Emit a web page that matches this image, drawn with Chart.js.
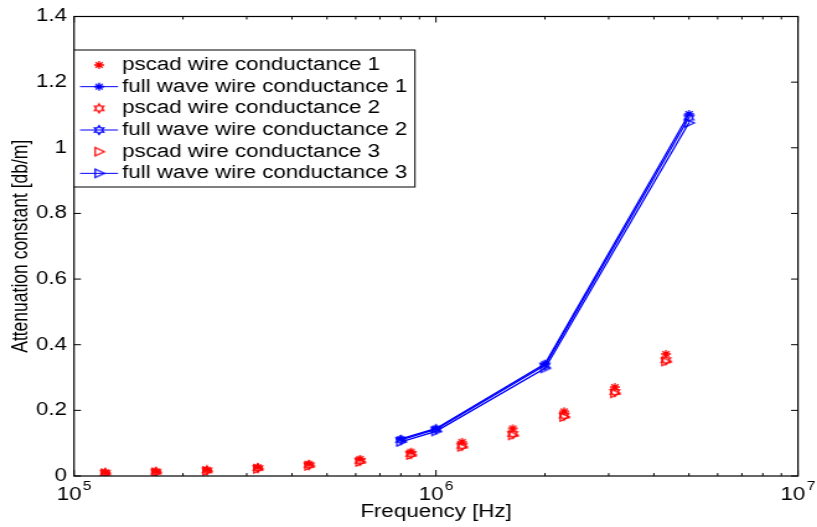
<!DOCTYPE html>
<html>
<head>
<meta charset="utf-8">
<script src="https://cdn.jsdelivr.net/npm/chart.js@4.4.0/dist/chart.umd.min.js"></script>
<style>
  html, body { margin: 0; padding: 0; background: #fff; overflow: hidden; }
  /* the reference is a MATLAB figure stretched sideways, so stretch the canvas the same way */
  #chart { display: block; width: 659px; height: 527px; transform: scaleX(1.2398); transform-origin: 0 0; }
</style>
</head>
<body>
<canvas id="chart" width="659" height="527"></canvas>
<script>
// data
const pscadFreq = [1.22e5, 1.685e5, 2.33e5, 3.22e5, 4.46e5, 6.17e5, 8.53e5, 1.18e6, 1.63e6, 2.26e6, 3.12e6, 4.32e6];
const pscad1 = [0.011, 0.014, 0.019, 0.027, 0.037, 0.052, 0.074, 0.104, 0.145, 0.197, 0.271, 0.372];
const pscad2 = [0.010, 0.013, 0.017, 0.024, 0.033, 0.046, 0.067, 0.092, 0.128, 0.184, 0.256, 0.353];
const pscad3 = [0.008, 0.011, 0.015, 0.022, 0.031, 0.043, 0.064, 0.089, 0.124, 0.180, 0.252, 0.349];
const fullFreq = [8e5, 1e6, 2e6, 5e6];
const full1 = [0.113, 0.145, 0.342, 1.103];
const full2 = [0.110, 0.142, 0.337, 1.092];
const full3 = [0.104, 0.136, 0.328, 1.076];
const seriesNames = [
    'pscad wire conductance 1',
    'full wave wire conductance 1',
    'pscad wire conductance 2',
    'full wave wire conductance 2',
    'pscad wire conductance 3',
    'full wave wire conductance 3'
];
const yTickValues = [0, 0.2, 0.4, 0.6, 0.8, 1, 1.2, 1.4];
const xDecades = [5, 6, 7];

const FONT = "'Liberation Sans', Arial, Helvetica, sans-serif";
const RED = '#ff0000', BLUE = '#0000ff';

// matlab style markers as small canvases
function marker(kind, color) {
    let c = document.createElement('canvas');
    c.width = 12; c.height = 12;
    let g = c.getContext('2d');
    g.strokeStyle = color;
    g.lineWidth = 1.3;
    g.translate(6, 6);
    g.beginPath();
    if (kind === 'star') {
        let r = 4;
        for (let i = 0; i < 4; i++) {
            let a = i * Math.PI / 4;
            g.moveTo(-r * Math.cos(a), -r * Math.sin(a));
            g.lineTo(r * Math.cos(a), r * Math.sin(a));
        }
    } else if (kind === 'hex') {
        for (let i = 0; i < 12; i++) {
            let r = i % 2 ? 2.4 : 4.3;
            let a = -Math.PI / 2 + i * Math.PI / 6;
            if (i) g.lineTo(r * Math.cos(a), r * Math.sin(a));
            else g.moveTo(r * Math.cos(a), r * Math.sin(a));
        }
        g.closePath();
    } else {
        g.moveTo(-3.2, -4.2); g.lineTo(4.2, 0); g.lineTo(-3.2, 4.2); g.closePath();
    }
    g.stroke();
    return c;
}

function pts(xs, ys) {
    return xs.map((f, i) => ({x: f, y: ys[i]}));
}

function pscadSet(i, ys, kind) {
    return {label: seriesNames[i], data: pts(pscadFreq, ys), pointStyle: marker(kind, RED),
        pointRadius: 4, showLine: false, borderColor: RED};
}
function fullSet(i, ys, kind) {
    return {label: seriesNames[i], data: pts(fullFreq, ys), pointStyle: marker(kind, BLUE),
        pointRadius: 4, showLine: true, borderColor: BLUE, borderWidth: 1.3, tension: 0};
}

// box, inward ticks, 10^n labels and the legend inside the axes
const matlabAxes = {
    id: 'matlabAxes',
    afterDraw(chart) {
        const {ctx, chartArea: a, scales: {x, y}} = chart;
        ctx.save();
        ctx.strokeStyle = '#000';
        ctx.lineWidth = 1.2;
        ctx.strokeRect(a.left, a.top, a.right - a.left, a.bottom - a.top);
        ctx.lineWidth = 1;
        ctx.beginPath();
        xDecades.forEach(e => {
            for (let m = 1; m <= 9; m++) {
                let v = m * Math.pow(10, e);
                if (v > x.max) break;
                let px = x.getPixelForValue(v), len = m === 1 ? 6 : 3;
                ctx.moveTo(px, a.bottom); ctx.lineTo(px, a.bottom - len);
                ctx.moveTo(px, a.top); ctx.lineTo(px, a.top + len);
            }
        });
        yTickValues.forEach(v => {
            let py = y.getPixelForValue(v);
            ctx.moveTo(a.left, py); ctx.lineTo(a.left + 5.6, py);
            ctx.moveTo(a.right, py); ctx.lineTo(a.right - 5.6, py);
        });
        ctx.stroke();

        ctx.fillStyle = '#000';
        ctx.textBaseline = 'alphabetic';
        xDecades.forEach(e => {
            let px = x.getPixelForValue(Math.pow(10, e));
            ctx.font = '18px ' + FONT;
            let wb = ctx.measureText('10').width;
            ctx.font = '12.5px ' + FONT;
            let we = ctx.measureText(String(e)).width;
            let start = px - (wb + 1 + we) / 2;
            ctx.font = '18px ' + FONT;
            ctx.fillText('10', start, 500);
            ctx.font = '12.5px ' + FONT;
            ctx.fillText(String(e), start + wb + 1, 490);
        });

        // legend
        let lx = a.left, lt = 50, lr = 334.7, lb = 187;
        ctx.fillStyle = '#fff';
        ctx.fillRect(lx, lt, lr - lx, lb - lt);
        ctx.strokeStyle = '#000';
        ctx.strokeRect(lx, lt, lr - lx, lb - lt);
        ctx.font = '18px ' + FONT;
        ctx.textBaseline = 'middle';
        chart.data.datasets.forEach((ds, i) => {
            let cy = lt + 15 + i * 21.67;
            if (ds.showLine) {
                ctx.strokeStyle = ds.borderColor;
                ctx.beginPath();
                ctx.moveTo(64.5, cy); ctx.lineTo(95.2, cy);
                ctx.stroke();
            }
            ctx.drawImage(ds.pointStyle, 79.9 - 6, cy - 6);
            ctx.fillStyle = '#000';
            ctx.fillText(ds.label, 98.4, cy);
        });
        ctx.restore();
    }
};

new Chart(document.getElementById('chart'), {
    type: 'scatter',
    data: {
        datasets: [
            pscadSet(0, pscad1, 'star'),
            fullSet(1, full1, 'star'),
            pscadSet(2, pscad2, 'hex'),
            fullSet(3, full2, 'hex'),
            pscadSet(4, pscad3, 'tri'),
            fullSet(5, full3, 'tri')
        ]
    },
    options: {
        responsive: false,
        animation: false,
        events: [],
        layout: {autoPadding: false, padding: {top: 14, right: 15.4, bottom: 0, left: 0}},
        plugins: {legend: {display: false}, tooltip: {enabled: false}},
        scales: {
            x: {
                type: 'logarithmic',
                min: 1e5,
                max: 1e7,
                grid: {display: false, drawTicks: false},
                border: {display: false},
                ticks: {display: false},
                afterBuildTicks: s => { s.ticks = xDecades.map(e => ({value: Math.pow(10, e)})); },
                afterFit: s => { s.height = 51; },
                title: {display: true, text: 'Frequency [Hz]', color: '#000',
                    font: {family: FONT, size: 18}, padding: {top: 0, bottom: 4}}
            },
            y: {
                min: 0,
                max: 1.4,
                grid: {display: false, drawTicks: false},
                border: {display: false},
                afterBuildTicks: s => { s.ticks = yTickValues.map(v => ({value: v})); },
                afterFit: s => { s.width = 59.7; },
                ticks: {color: '#000', padding: 5.7, font: {family: FONT, size: 18},
                    callback: v => String(Math.round(v * 10) / 10)},
                title: {display: true, text: 'Attenuation constant [db/m]', color: '#000',
                    font: {family: FONT, size: 17.5}, padding: {top: 7, bottom: 0}}
            }
        }
    },
    plugins: [matlabAxes]
});
</script>
</body>
</html>
